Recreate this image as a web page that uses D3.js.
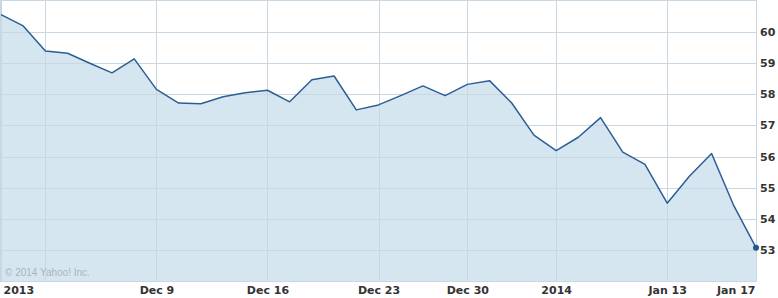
<!DOCTYPE html>
<html>
<head>
	<title>Price chart</title>
	<style type="text/css">
		body { margin: 0; background: #fff; }
		.grid line { stroke: #c9d7e2; stroke-width: 1; shape-rendering: crispEdges; }
		.axis text { font-family: "DejaVu Sans", Verdana, sans-serif; font-size: 11px; font-weight: bold; fill: #333; }
		.axis path, .axis line { display: none; }
	</style>
</head>
<body>
	<div id="chart"></div>
	<script src="https://d3js.org/d3.v7.min.js"></script>
	<script type="text/javascript">
		// trading days shown on the chart
		var dates = ["2013-11-27", "2013-11-29",
			"2013-12-02", "2013-12-03", "2013-12-04", "2013-12-05", "2013-12-06",
			"2013-12-09", "2013-12-10", "2013-12-11", "2013-12-12", "2013-12-13",
			"2013-12-16", "2013-12-17", "2013-12-18", "2013-12-19", "2013-12-20",
			"2013-12-23", "2013-12-24", "2013-12-26", "2013-12-27",
			"2013-12-30", "2013-12-31", "2014-01-02", "2014-01-03",
			"2014-01-06", "2014-01-07", "2014-01-08", "2014-01-09", "2014-01-10",
			"2014-01-13", "2014-01-14", "2014-01-15", "2014-01-16", "2014-01-17"];

		var closes = [60.56, 60.20,
			59.39, 59.32, 59.00, 58.69, 59.14,
			58.16, 57.72, 57.70, 57.92, 58.05,
			58.13, 57.76, 58.47, 58.59, 57.50,
			57.66, 57.96, 58.27, 57.96,
			58.32, 58.44, 57.72, 56.69,
			56.19, 56.62, 57.25, 56.14, 55.75,
			54.50, 55.37, 56.10, 54.42, 53.07];

		var tickDates = ["2013-11-27", "2013-12-02", "2013-12-09", "2013-12-16", "2013-12-23",
			"2013-12-30", "2014-01-06", "2014-01-13", "2014-01-17"];
		var tickLabels = ["2013", "", "Dec 9", "Dec 16", "Dec 23", "Dec 30", "2014", "Jan 13", "Jan 17"];

		var priceTicks = [53, 54, 55, 56, 57, 58, 59, 60];

		var width = 778, height = 298,
			plotLeft = 1, plotRight = 756, plotTop = 1, plotBottom = 281;

		var svg = d3.select('#chart')
			.append('svg')
			.attr('width', width)
			.attr('height', height);

		var x = d3.scalePoint().domain(dates).range([plotLeft, plotRight]).padding(0),
			y = d3.scaleLinear().domain([52, 61]).range([plotBottom, plotTop]);

		var data = dates.map(function(d, i) { return { date: d, close: closes[i] }; });

		// filled area first
		var area = d3.area()
			.x(function(d) { return x(d.date); })
			.y0(plotBottom)
			.y1(function(d) { return y(d.close); });

		svg.append('path')
			.datum(data)
			.attr('d', area)
			.attr('fill', '#d6e6f1');

		// grid
		var grid = svg.append('g').attr('class', 'grid');

		grid.selectAll('.h')
			.data(priceTicks)
			.enter().append('line')
			.attr('x1', plotLeft).attr('x2', plotRight)
			.attr('y1', function(d) { return Math.round(y(d)) + 0.5; })
			.attr('y2', function(d) { return Math.round(y(d)) + 0.5; });

		grid.selectAll('.v')
			.data(tickDates)
			.enter().append('line')
			.attr('x1', function(d) { return Math.round(x(d)) + 0.5; })
			.attr('x2', function(d) { return Math.round(x(d)) + 0.5; })
			.attr('y1', plotTop).attr('y2', plotBottom);

		// frame
		grid.append('line').attr('x1', 0).attr('x2', plotRight).attr('y1', 0.5).attr('y2', 0.5);
		grid.append('line').attr('x1', 0.5).attr('x2', 0.5).attr('y1', 0).attr('y2', plotBottom);
		grid.append('line').attr('x1', plotRight + 0.5).attr('x2', plotRight + 0.5).attr('y1', 0).attr('y2', plotBottom + 1);
		grid.append('line').attr('x1', 0).attr('x2', plotRight).attr('y1', plotBottom + 0.5).attr('y2', plotBottom + 0.5);

		// price line
		var line = d3.line()
			.x(function(d) { return x(d.date); })
			.y(function(d) { return y(d.close); });

		svg.append('path')
			.datum(data)
			.attr('d', line)
			.attr('fill', 'none')
			.attr('stroke', '#2c5e96')
			.attr('stroke-width', 1.5)
			.attr('stroke-linejoin', 'round');

		var last = data[data.length - 1];
		svg.append('circle')
			.attr('cx', x(last.date))
			.attr('cy', y(last.close))
			.attr('r', 3)
			.attr('fill', '#1f5791');

		// axes
		svg.append('g')
			.attr('class', 'axis')
			.attr('transform', 'translate(0,' + plotBottom + ')')
			.call(d3.axisBottom(x)
				.tickValues(tickDates)
				.tickSize(0)
				.tickPadding(5)
				.tickFormat(function(d, i) { return tickLabels[i]; }))
			.selectAll('text')
			.attr('dy', '0.71em')
			.attr('text-anchor', function(d, i) {
				if (i === 0) return 'start';
				if (i === tickDates.length - 1) return 'end';
				return 'middle';
			})
			.attr('dx', function(d, i) { return i === 0 ? 2 : (i === tickDates.length - 1 ? -1 : 0); });

		svg.append('g')
			.attr('class', 'axis')
			.attr('transform', 'translate(' + plotRight + ',0)')
			.call(d3.axisRight(y).tickValues(priceTicks).tickSize(0).tickPadding(4).tickFormat(d3.format('d')));

		svg.append('text')
			.attr('x', 5)
			.attr('y', 276)
			.attr('font-family', 'Arial, "Liberation Sans", sans-serif')
			.attr('font-size', '10px')
			.attr('fill', '#a9b4bd')
			.text('\u00a9 2014 Yahoo! Inc.');
	</script>
</body>
</html>
